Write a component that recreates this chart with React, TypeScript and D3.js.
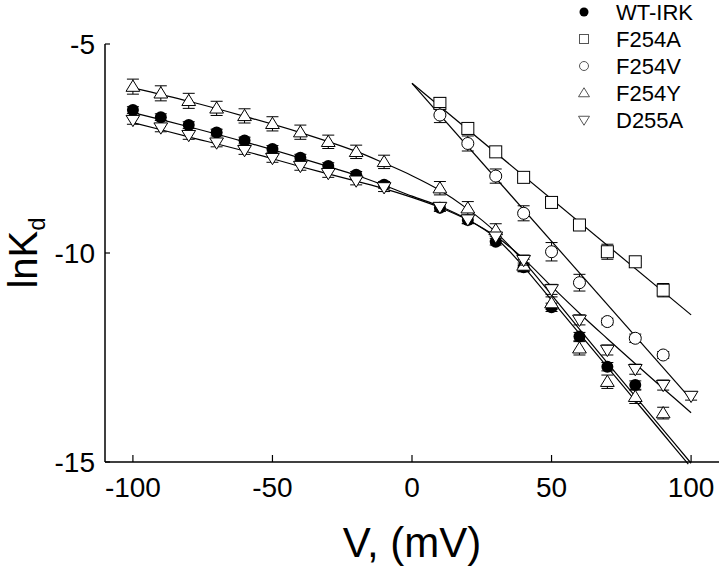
import React from 'react';
import * as d3 from 'd3';

// voltages (mV)
const vNeg = [-100, -90, -80, -70, -60, -50, -40, -30, -20, -10];
const vPos = [10, 20, 30, 40, 50, 60, 70, 80, 90];
const vPos100 = [10, 20, 30, 40, 50, 60, 70, 80, 90, 100];
const vWtPos = [10, 20, 30, 40, 50, 60, 70, 80];

// lnKd values
const wtVals = [-6.58, -6.75, -6.94, -7.12, -7.31, -7.51, -7.72, -7.92, -8.13, -8.37,
  -8.92, -9.21, -9.73, -10.34, -11.3, -12.0, -12.72, -13.16];
const wtErr = [0.08, 0.08, 0.08, 0.08, 0.08, 0.08, 0.08, 0.08, 0.08, 0.08,
  0.08, 0.08, 0.08, 0.1, 0.1, 0.1, 0.1, 0.1];
const f254aVals = [-6.42, -7.02, -7.58, -8.19, -8.79, -9.33, -9.97, -10.21, -10.89];
const f254aErr = [0.14, 0.1, 0.05, 0.08, 0.06, 0.06, 0.18, 0.08, 0.16];
const f254vVals = [-6.7, -7.38, -8.16, -9.05, -9.97, -10.71, -11.64, -12.04, -12.44];
const f254vErr = [0.18, 0.18, 0.17, 0.18, 0.22, 0.2, 0.08, 0.1, 0.08];
const f254yVals = [-6.02, -6.18, -6.36, -6.54, -6.72, -6.91, -7.11, -7.34, -7.58, -7.82,
  -8.45, -8.93, -9.45, -10.3, -11.2, -12.28, -13.08, -13.44, -13.83];
const f254yErr = [0.18, 0.18, 0.18, 0.17, 0.17, 0.17, 0.17, 0.16, 0.16, 0.16,
  0.16, 0.16, 0.15, 0.15, 0.15, 0.16, 0.16, 0.16, 0.14];
const d255aVals = [-6.82, -7.0, -7.18, -7.36, -7.54, -7.73, -7.92, -8.09, -8.27, -8.43,
  -8.9, -9.2, -9.61, -10.17, -10.87, -11.6, -12.32, -12.78, -13.16, -13.42];
const d255aErr = [0.1, 0.1, 0.1, 0.1, 0.1, 0.1, 0.1, 0.1, 0.1, 0.1,
  0.1, 0.1, 0.1, 0.12, 0.12, 0.12, 0.12, 0.12, 0.12, 0.1];

// fitted curves, knots
const fitWt: [number, number][] = [[-100, -6.64], [-80, -6.98], [-60, -7.34], [-40, -7.73], [-20, -8.14],
  [-10, -8.38], [0, -8.64], [10, -8.88], [20, -9.2], [30, -9.64], [40, -10.33], [50, -11.13],
  [60, -11.93], [70, -12.73], [80, -13.53], [90, -14.33], [99, -15.05]];
const fitF254y: [number, number][] = [[-100, -6.05], [-80, -6.37], [-60, -6.73], [-40, -7.12], [-20, -7.57],
  [-10, -7.85], [0, -8.15], [10, -8.5], [20, -8.95], [30, -9.5], [40, -10.2], [50, -11.0],
  [60, -11.82], [70, -12.63], [80, -13.43], [90, -14.23], [100, -15.03]];
const fitD255a: [number, number][] = [[-100, -6.88], [-80, -7.22], [-60, -7.56], [-40, -7.93], [-20, -8.28],
  [-10, -8.46], [0, -8.67], [10, -8.91], [20, -9.21], [30, -9.6], [40, -10.14], [50, -10.8],
  [60, -11.44], [70, -12.05], [80, -12.65], [90, -13.24], [100, -13.82]];
const fitF254a: [number, number][] = [[0, -5.94], [100, -11.48]];
const fitF254v: [number, number][] = [[0, -5.94], [100, -13.5]];

const xTicks = [-100, -50, 0, 50, 100];
const yTicks = [-5, -10, -15];
const legendNames = ['WT-IRK', 'F254A', 'F254V', 'F254Y', 'D255A'];

const W = 720;
const H = 566;
const font = 'Liberation Sans, Arial, Helvetica, sans-serif';

const x = d3.scaleLinear().domain([-110, 110]).range([105, 719]);
const y = d3.scaleLinear().domain([-15, -5]).range([462, 44]);

type Shape = 'dot' | 'square' | 'circle' | 'up' | 'down';

const marker = (shape: Shape, cx: number, cy: number, s: number, stroke: string, key?: string) => {
  const h = s / 2;
  if (shape === 'dot') return <circle key={key} cx={cx} cy={cy} r={h} fill="#000" />;
  if (shape === 'circle') return <circle key={key} cx={cx} cy={cy} r={h} fill="#fff" stroke={stroke} strokeWidth={1} />;
  if (shape === 'square') return <rect key={key} x={cx - h} y={cy - h} width={s} height={s} fill="#fff" stroke={stroke} strokeWidth={1} />;
  const t = s * 0.5;
  const pts = shape === 'up'
    ? `${cx},${cy - t * 1.05} ${cx + h * 1.1},${cy + t * 0.75} ${cx - h * 1.1},${cy + t * 0.75}`
    : `${cx},${cy + t * 1.05} ${cx + h * 1.1},${cy - t * 0.75} ${cx - h * 1.1},${cy - t * 0.75}`;
  return <polygon key={key} points={pts} fill="#fff" stroke={stroke} strokeWidth={1} />;
};

const series: { name: string; shape: Shape; vs: number[]; vals: number[]; err: number[] }[] = [
  { name: 'WT-IRK', shape: 'dot', vs: [...vNeg, ...vWtPos], vals: wtVals, err: wtErr },
  { name: 'F254A', shape: 'square', vs: vPos, vals: f254aVals, err: f254aErr },
  { name: 'F254V', shape: 'circle', vs: vPos, vals: f254vVals, err: f254vErr },
  { name: 'F254Y', shape: 'up', vs: [...vNeg, ...vPos], vals: f254yVals, err: f254yErr },
  { name: 'D255A', shape: 'down', vs: [...vNeg, ...vPos100], vals: d255aVals, err: d255aErr },
];

const fits = [fitWt, fitF254y, fitD255a, fitF254a, fitF254v];

const line = d3.line<[number, number]>()
  .x(d => x(d[0]))
  .y(d => y(d[1]))
  .curve(d3.curveCatmullRom.alpha(0.5));

export default function App() {
  return (
    <svg width={W} height={H} style={{ position: 'absolute', left: 0, top: 0, background: '#fff' }}
      fontFamily={font}>
      <rect width={W} height={H} fill="#fff" />

      {/* fit curves */}
      {fits.map((f, i) => (
        <path key={'fit' + i} d={line(f) || ''} fill="none" stroke="#000" strokeWidth={1.2} />
      ))}

      {/* error bars and markers */}
      {series.map(s => (
        <g key={s.name}>
          {s.vs.map((v, i) => {
            const cx = x(v);
            const y1 = y(s.vals[i] + s.err[i]);
            const y2 = y(s.vals[i] - s.err[i]);
            return (
              <g key={i} stroke="#000" strokeWidth={1}>
                <line x1={cx} x2={cx} y1={y1} y2={y2} />
                <line x1={cx - 6} x2={cx + 6} y1={y1} y2={y1} />
                <line x1={cx - 6} x2={cx + 6} y1={y2} y2={y2} />
              </g>
            );
          })}
          {s.vs.map((v, i) => marker(s.shape, x(v), y(s.vals[i]), s.shape === 'up' || s.shape === 'down' ? 12.5 : 12, '#000', 'm' + i))}
        </g>
      ))}

      {/* axes */}
      <line x1={x(-110)} x2={x(110)} y1={y(-15)} y2={y(-15)} stroke="#000" strokeWidth={1.5} />
      <line x1={x(-110)} x2={x(-110)} y1={y(-5)} y2={y(-15)} stroke="#000" strokeWidth={1.5} />
      {xTicks.map(t => (
        <g key={'xt' + t}>
          <line x1={x(t)} x2={x(t)} y1={y(-15)} y2={y(-15) - 7} stroke="#000" strokeWidth={1.2} />
          <text x={x(t)} y={497} textAnchor="middle" fontSize={28} fill="#000">{t}</text>
        </g>
      ))}
      {yTicks.map(t => (
        <g key={'yt' + t}>
          <line x1={x(-110)} x2={x(-110) + 5} y1={y(t)} y2={y(t)} stroke="#000" strokeWidth={1.2} />
          <text x={95} y={y(t) + 10} textAnchor="end" fontSize={28} fill="#000">{t}</text>
        </g>
      ))}

      {/* axis titles */}
      <text transform={`translate(37,253) rotate(-90)`} textAnchor="middle" fontSize={40} fill="#000">
        lnK<tspan fontSize={24} dy={8}>d</tspan>
      </text>
      <text x={x(0)} y={557} textAnchor="middle" fontSize={42} fill="#000">V, (mV)</text>

      {/* legend */}
      {legendNames.map((n, i) => {
        const s = series.find(d => d.name === n)!;
        const by = 20 + i * 27;
        return (
          <g key={'lg' + n}>
            {marker(s.shape, 584, by - 8, s.shape === 'up' || s.shape === 'down' ? 10 : 9, '#555')}
            <text x={616} y={by} fontSize={22} fill="#000">{n}</text>
          </g>
        );
      })}
    </svg>
  );
}
